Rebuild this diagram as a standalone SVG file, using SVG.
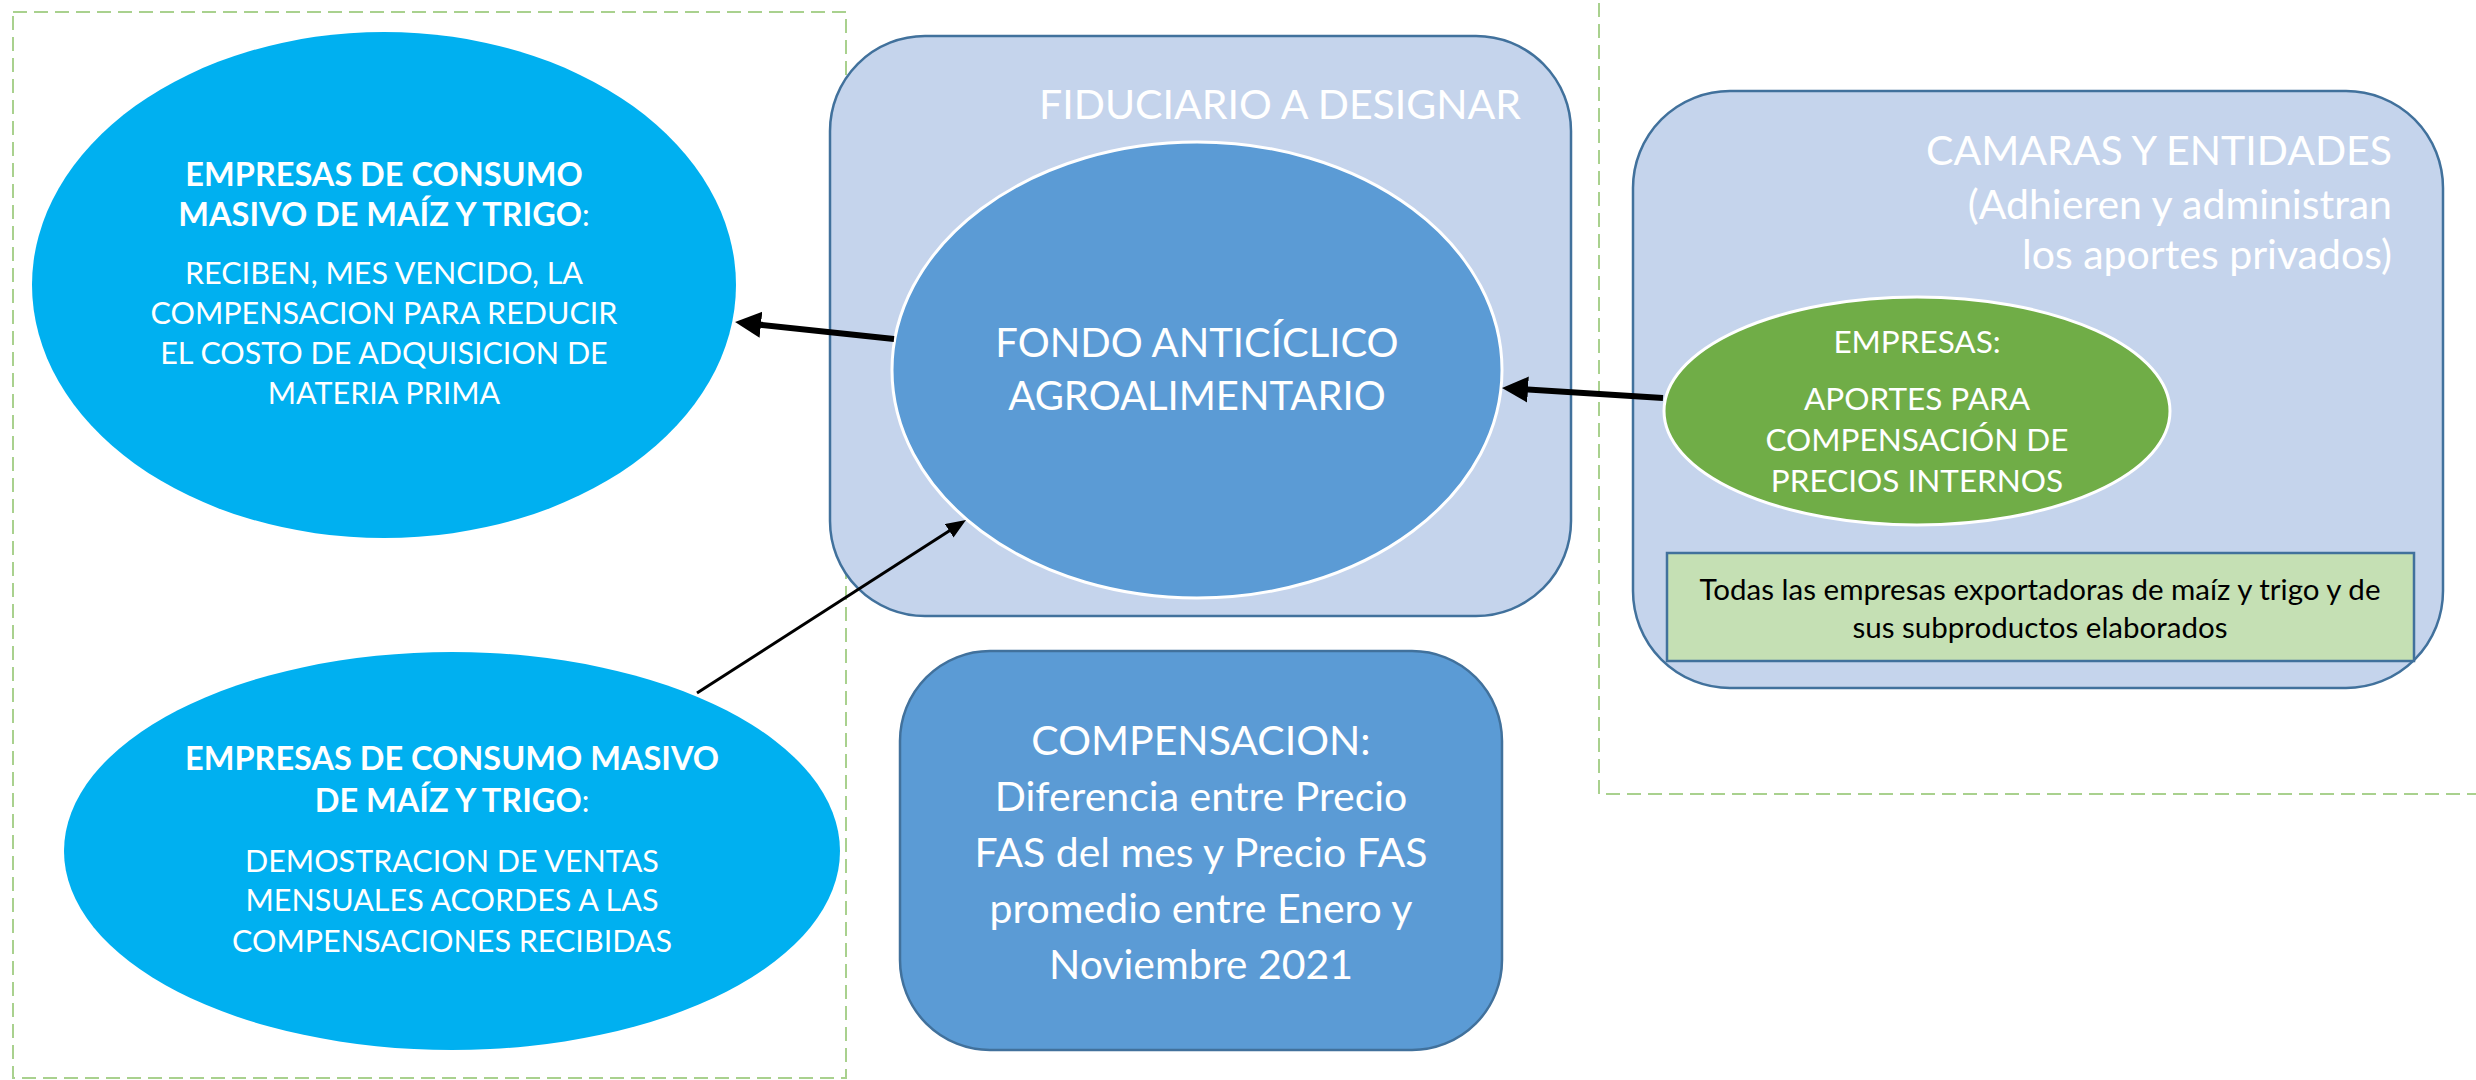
<svg xmlns="http://www.w3.org/2000/svg" width="2476" height="1080" viewBox="0 0 2476 1080">
<style>
text{font-family:Lato,"Liberation Sans",sans-serif;fill:#fff;}
.c{text-anchor:middle;}
.r{text-anchor:end;}
.b{font-weight:bold;font-size:32.5px;}
.dash{fill:none;stroke:#A9D18E;stroke-width:2;stroke-dasharray:14 7;}
.pale{fill:#C5D4EC;stroke:#41719C;stroke-width:2.5;}
.mid{fill:#5B9BD5;}
.cyan{fill:#00B0F0;}
.green{fill:#70AD47;stroke:#fff;stroke-width:3;}
.s30{font-size:30.5px;}
.s41{font-size:41px;}
.s40{font-size:40px;}
.s31{font-size:31.5px;}
.s29{font-size:29.5px;}
.conn line{stroke:#000;fill:none;}
</style>
<defs>
<marker id="ah" markerUnits="userSpaceOnUse" markerWidth="30" markerHeight="30" refX="14" refY="13" orient="auto">
<path d="M0,0 L26,13 L0,26 z" fill="#000"/>
</marker>
<marker id="ahs" markerUnits="userSpaceOnUse" markerWidth="24" markerHeight="20" refX="10" refY="8" orient="auto">
<path d="M0,0 L20,8 L0,16 z" fill="#000"/>
</marker>
</defs>
<rect width="2476" height="1080" fill="#fff"/>

<g id="zona-izquierda"><rect class="dash" x="13" y="12" width="833" height="1066"/></g>
<g id="zona-derecha"><rect class="dash" x="1599" y="-10" width="900" height="804"/></g>

<g id="fiduciario">
<rect class="pale" x="830" y="36" width="741" height="580" rx="95" ry="95"/>
<text class="s41 r" x="1521" y="119">FIDUCIARIO A DESIGNAR</text>
</g>

<g id="fondo">
<ellipse class="mid" cx="1197" cy="370" rx="305" ry="228" stroke="#fff" stroke-width="3"/>
<text class="s40 c" x="1197" y="357">FONDO ANTICÍCLICO</text>
<text class="s40 c" x="1197" y="410">AGROALIMENTARIO</text>
</g>

<g id="empresas-reciben">
<ellipse class="cyan" cx="384" cy="285" rx="352" ry="253"/>
<text class="s30 c" x="384" y="186"><tspan class="b">EMPRESAS DE CONSUMO</tspan></text>
<text class="s30 c" x="384" y="226"><tspan class="b">MASIVO DE MAÍZ Y TRIGO</tspan>:</text>
<text class="s30 c" x="384" y="284">RECIBEN, MES VENCIDO, LA</text>
<text class="s30 c" x="384" y="324">COMPENSACION PARA REDUCIR</text>
<text class="s30 c" x="384" y="364">EL COSTO DE ADQUISICION DE</text>
<text class="s30 c" x="384" y="404">MATERIA PRIMA</text>
</g>

<g id="empresas-demuestran">
<ellipse class="cyan" cx="452" cy="851" rx="388" ry="199"/>
<text class="s30 c" x="452" y="770"><tspan class="b">EMPRESAS DE CONSUMO MASIVO</tspan></text>
<text class="s30 c" x="452" y="812"><tspan class="b">DE MAÍZ Y TRIGO</tspan>:</text>
<text class="s30 c" x="452" y="872">DEMOSTRACION DE VENTAS</text>
<text class="s30 c" x="452" y="911">MENSUALES ACORDES A LAS</text>
<text class="s30 c" x="452" y="952">COMPENSACIONES RECIBIDAS</text>
</g>

<g id="compensacion">
<rect class="mid" x="900" y="651" width="602" height="399" rx="90" ry="90" stroke="#41719C" stroke-width="2.5"/>
<text class="s41 c" x="1201" y="755">COMPENSACION:</text>
<text class="s41 c" x="1201" y="811">Diferencia entre Precio</text>
<text class="s41 c" x="1201" y="867">FAS del mes y Precio FAS</text>
<text class="s41 c" x="1201" y="923">promedio entre Enero y</text>
<text class="s41 c" x="1201" y="979">Noviembre 2021</text>
</g>

<g id="camaras">
<rect class="pale" x="1633" y="91" width="810" height="597" rx="97" ry="97"/>
<text class="s41 r" x="2392" y="165">CAMARAS Y ENTIDADES</text>
<text class="s41 r" x="2392" y="219">(Adhieren y administran</text>
<text class="s41 r" x="2392" y="269">los aportes privados)</text>
</g>

<g id="empresas-aportes">
<ellipse class="green" cx="1917" cy="411" rx="253" ry="114"/>
<text class="s31 c" x="1917" y="353">EMPRESAS:</text>
<text class="s31 c" x="1917" y="410">APORTES PARA</text>
<text class="s31 c" x="1917" y="451">COMPENSACIÓN DE</text>
<text class="s31 c" x="1917" y="492">PRECIOS INTERNOS</text>
</g>

<g id="exportadoras">
<rect x="1667" y="553" width="747" height="108" fill="#C5E0B4" stroke="#41719C" stroke-width="2.5"/>
<text class="s29 c" x="2040" y="600" style="fill:#000">Todas las empresas exportadoras de maíz y trigo y de</text>
<text class="s29 c" x="2040" y="638" style="fill:#000">sus subproductos elaborados</text>
</g>

<g id="conectores" class="conn">
<line x1="894" y1="339" x2="747" y2="323.3" stroke-width="6" marker-end="url(#ah)"/>
<line x1="1663" y1="398" x2="1514" y2="388.7" stroke-width="6" marker-end="url(#ah)"/>
<line x1="697" y1="693" x2="957.6" y2="525.4" stroke-width="3" marker-end="url(#ahs)"/>
</g>
</svg>
